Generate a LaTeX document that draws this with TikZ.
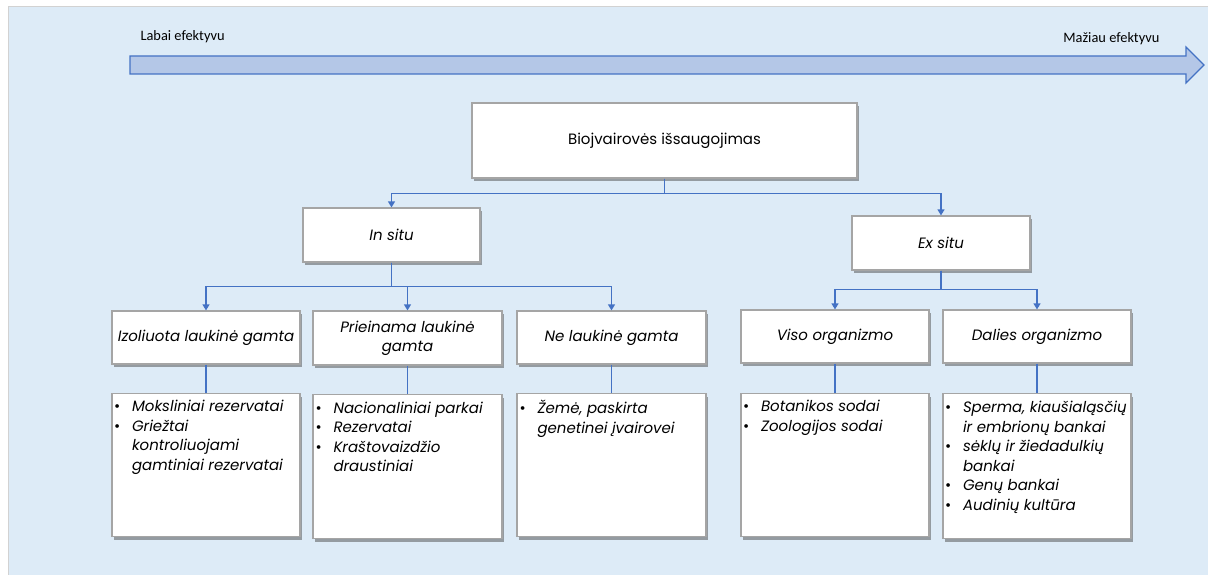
\documentclass[tikz,border=0pt]{standalone}
\usepackage{fontspec}
\setmainfont{Poppins}
\newfontfamily\labelfont{Carlito}
\usetikzlibrary{arrows.meta,shadows}

\definecolor{panelblue}{RGB}{221,235,247}
\definecolor{arrowfill}{RGB}{180,199,231}
\definecolor{linkblue}{RGB}{68,114,196}
\definecolor{boxgray}{RGB}{165,165,165}

% one bullet line of a list box
\newcommand{\bitem}[1]{\hangindent=18pt\hangafter=1\noindent\makebox[18pt][l]{\upshape\textbullet}#1\par}
\newcommand{\blist}[1]{\parbox[c][140pt][t]{184pt}{\raggedright\vspace*{5pt}#1}}

\begin{document}
\begin{tikzpicture}[x=1pt,y=-1pt,
  box/.style={draw=boxgray, line width=1.2pt, fill=white,
    drop shadow={shadow xshift=2pt, shadow yshift=-3pt, opacity=.5, fill=black!70},
    align=center, font=\fontsize{15}{19}\selectfont},
  ibox/.style={box, font=\fontsize{15}{19}\selectfont\itshape},
  listbox/.style={box, anchor=north, minimum width=188pt, minimum height=143pt,
    inner sep=0pt, align=left, font=\fontsize{15}{19.5}\selectfont\itshape},
  link/.style={draw=linkblue, line width=1.2pt},
  arr/.style={link, -{Triangle[width=7pt,length=6pt]}}]

\useasboundingbox (0,0) rectangle (1208,575);
\fill[panelblue] (8,7) rectangle (1208,575);
\draw[gray!35, line width=1pt] (8,575) -- (8,7) -- (1208,7);

% effectiveness arrow
\draw[linkblue, fill=arrowfill, line width=1.2pt] (130,56) -- (1186,56) -- (1186,47) -- (1204,65)
  -- (1186,83) -- (1186,74) -- (130,74) -- cycle;
\node[anchor=west, font=\labelfont\fontsize{14.4}{16}\selectfont] (labai) at (137,37) {Labai efektyvu};
\node[anchor=east, font=\labelfont\fontsize{14.4}{16}\selectfont] (maziau) at (1163,39) {Mažiau efektyvu};

% tree
\node[box, minimum width=385pt, minimum height=75pt] (bio) at (664.5,140.5) {Biojvairovės išsaugojimas};
\node[ibox, minimum width=177pt, minimum height=54pt] (insitu) at (391.5,235) {In situ};
\node[ibox, minimum width=178pt, minimum height=54pt] (exsitu) at (941,243) {Ex situ};

\node[ibox, minimum width=188pt, minimum height=53pt] (izo) at (206,337.5) {Izoliuota laukinė gamta};
\node[ibox, minimum width=189pt, minimum height=54pt] (pri) at (407.5,338) {Prieinama laukinė\\gamta};
\node[ibox, minimum width=189pt, minimum height=53pt] (ne) at (611.5,337.5) {Ne laukinė gamta};
\node[ibox, minimum width=188pt, minimum height=53pt] (viso) at (835,336.5) {Viso organizmo};
\node[ibox, minimum width=188pt, minimum height=53pt] (dalies) at (1037,336.5) {Dalies organizmo};

\node[listbox] (izolist) at (206,393) {\blist{\bitem{Moksliniai rezervatai}\bitem{Griežtai\newline kontroliuojami\newline gamtiniai rezervatai}}};
\node[listbox, minimum height=144pt, minimum width=189pt] (prilist) at (407.5,394) {\blist{\bitem{Nacionaliniai parkai}\bitem{Rezervatai}\bitem{Kraštovaizdžio\newline draustiniai}}};
\node[listbox, minimum width=189pt] (nelist) at (611.5,393) {\blist{\bitem{Žemė, paskirta\newline genetinei įvairovei}}};
\node[listbox] (visolist) at (835,393) {\blist{\bitem{Botanikos sodai}\bitem{Zoologijos sodai}}};
\node[listbox, minimum height=145pt] (dalieslist) at (1037,393) {\blist{\bitem{Sperma, kiaušialąsčių\newline ir embrionų bankai}\bitem{sėklų ir žiedadulkių\newline bankai}\bitem{Genų bankai}\bitem{Audinių kultūra}}};

% connectors
\draw[arr] (bio.south) -- ++(0,15) -| (insitu.north);
\draw[arr] (bio.south) -- ++(0,15) -| (exsitu.north);
\draw[arr] (insitu.south) -- ++(0,24) -| (izo.north);
\draw[arr] (insitu.south) -- ++(0,24) -| (pri.north);
\draw[arr] (insitu.south) -- ++(0,24) -| (ne.north);
\draw[arr] (exsitu.south) -- ++(0,19) -| (viso.north);
\draw[arr] (exsitu.south) -- ++(0,19) -| (dalies.north);

\draw[link] (izo.south) -- (izolist.north);
\draw[link] (pri.south) -- (prilist.north);
\draw[link] (ne.south) -- (nelist.north);
\draw[link] (viso.south) -- (visolist.north);
\draw[link] (dalies.south) -- (dalieslist.north);

\end{tikzpicture}
\end{document}
